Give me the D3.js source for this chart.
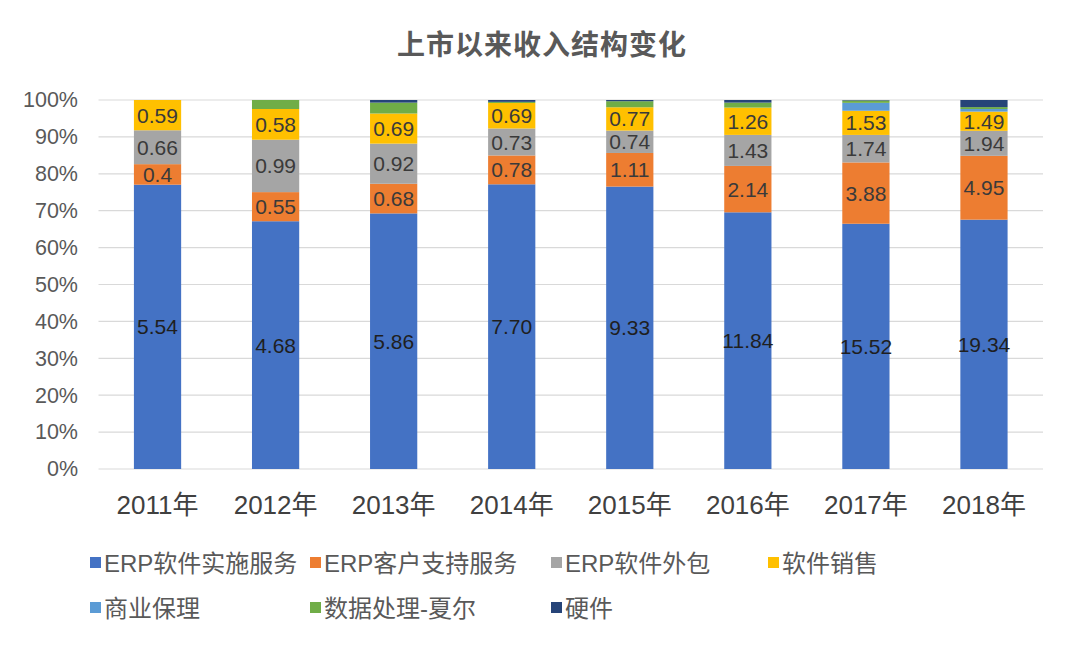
<!DOCTYPE html>
<html><head><meta charset="utf-8">
<script src="https://cdn.jsdelivr.net/npm/d3@7"></script>
<style>body{margin:0;background:#fff}svg{display:block}</style>
</head><body>
<svg id="chart" width="1080" height="651"></svg>
<script>
const categories = ["2011年","2012年","2013年","2014年","2015年","2016年","2017年","2018年"];
const seriesNames = ["ERP软件实施服务","ERP客户支持服务","ERP软件外包","软件销售","商业保理","数据处理-夏尔","硬件"];
const erpImpl    = [5.54, 4.68, 5.86, 7.70, 9.33, 11.84, 15.52, 19.34];
const erpSupport = [0.4, 0.55, 0.68, 0.78, 1.11, 2.14, 3.88, 4.95];
const erpOutsrc  = [0.66, 0.99, 0.92, 0.73, 0.74, 1.43, 1.74, 1.94];
const swSales    = [0.59, 0.58, 0.69, 0.69, 0.77, 1.26, 1.53, 1.49];
const factoring  = [0, 0, 0, 0, 0, 0, 0.5, 0.2];
const dataProc   = [0, 0.17, 0.25, 0.03, 0.2, 0.23, 0.15, 0.15];
const hardware   = [0, 0, 0.06, 0.05, 0.04, 0.12, 0.03, 0.55];
const yTicks = [0,0.1,0.2,0.3,0.4,0.5,0.6,0.7,0.8,0.9,1.0];
const colors = ["#4472C4","#ED7D31","#A5A5A5","#FFC000","#5B9BD5","#70AD47","#264478"];
const labelled = [true,true,true,true,false,false,false];

const seriesVals = [erpImpl, erpSupport, erpOutsrc, swSales, factoring, dataProc, hardware];
const table = categories.map((c,i)=>{
  const row = {cat:c};
  seriesNames.forEach((s,k)=>row[s]=seriesVals[k][i]);
  return row;
});
const stack = d3.stack().keys(seriesNames).offset(d3.stackOffsetExpand);
const layers = stack(table);

const svg = d3.select("#chart");
const x = d3.scaleBand().domain(categories).range([98.5,1043]).paddingInner(0.6).paddingOuter(0.3);
const y = d3.scaleLinear().domain([0,1]).range([469,100]);

const font = "'Liberation Sans','Noto Sans CJK SC',Arial,sans-serif";

// title
svg.append("text").attr("x",542).attr("y",55).attr("text-anchor","middle")
  .attr("font-family",font).attr("font-size",28).attr("font-weight","bold")
  .attr("fill","#595959").attr("letter-spacing",1).text("上市以来收入结构变化");

// grid
svg.append("g").selectAll("line").data(yTicks).join("line")
  .attr("x1",98.5).attr("x2",1043).attr("y1",d=>y(d)).attr("y2",d=>y(d))
  .attr("stroke","#d9d9d9").attr("stroke-width",1.2);

// y axis
const yAxis = d3.axisLeft(y).tickValues(yTicks).tickFormat(d3.format(".0%")).tickSize(0).tickPadding(0);
const gy = svg.append("g").attr("transform","translate(78,0)").call(yAxis);
gy.select(".domain").remove();
gy.selectAll("text").attr("font-family",font).attr("font-size",21.5).attr("fill","#595959");

// x axis
const xAxis = d3.axisBottom(x).tickSize(0).tickPadding(0);
const gx = svg.append("g").attr("transform","translate(0,505)").call(xAxis);
gx.select(".domain").remove();
gx.selectAll("text").attr("font-family",font).attr("font-size",26).attr("fill","#404040").attr("dy","0.36em");

// bars
const g = svg.append("g");
layers.forEach((layer,k)=>{
  g.append("g").selectAll("rect").data(layer).join("rect")
    .attr("x",d=>x(d.data.cat)).attr("width",x.bandwidth())
    .attr("y",d=>y(d[1])).attr("height",d=>Math.max(0,y(d[0])-y(d[1])))
    .attr("fill",colors[k]);
});
// labels
layers.forEach((layer,k)=>{
  if(!labelled[k]) return;
  const fmt = k===0 ? (v=>v.toFixed(2)) : (v=>String(v));
  g.append("g").selectAll("text").data(layer).join("text")
    .attr("x",d=>x(d.data.cat)+x.bandwidth()/2)
    .attr("y",d=>(y(d[0])+y(d[1]))/2)
    .attr("dy","0.36em").attr("text-anchor","middle")
    .attr("font-family",font).attr("font-size",21)
    .attr("fill", k===0 ? "#1f1f1f" : "#3a3a3a")
    .text(d=>fmt(d.data[layer.key]));
});

// legend
const legendPos = [[90,563],[310,563],[551,563],[768,563],[90,608],[310,608],[551,608]];
const lg = svg.append("g");
seriesNames.forEach((s,k)=>{
  const [lx,ly] = legendPos[k];
  lg.append("rect").attr("x",lx).attr("y",ly-6).attr("width",11).attr("height",11).attr("fill",colors[k]);
  lg.append("text").attr("x",lx+14).attr("y",ly).attr("dy","0.36em")
    .attr("font-family",font).attr("font-size",24).attr("fill","#595959").text(s);
});
</script>
</body></html>
